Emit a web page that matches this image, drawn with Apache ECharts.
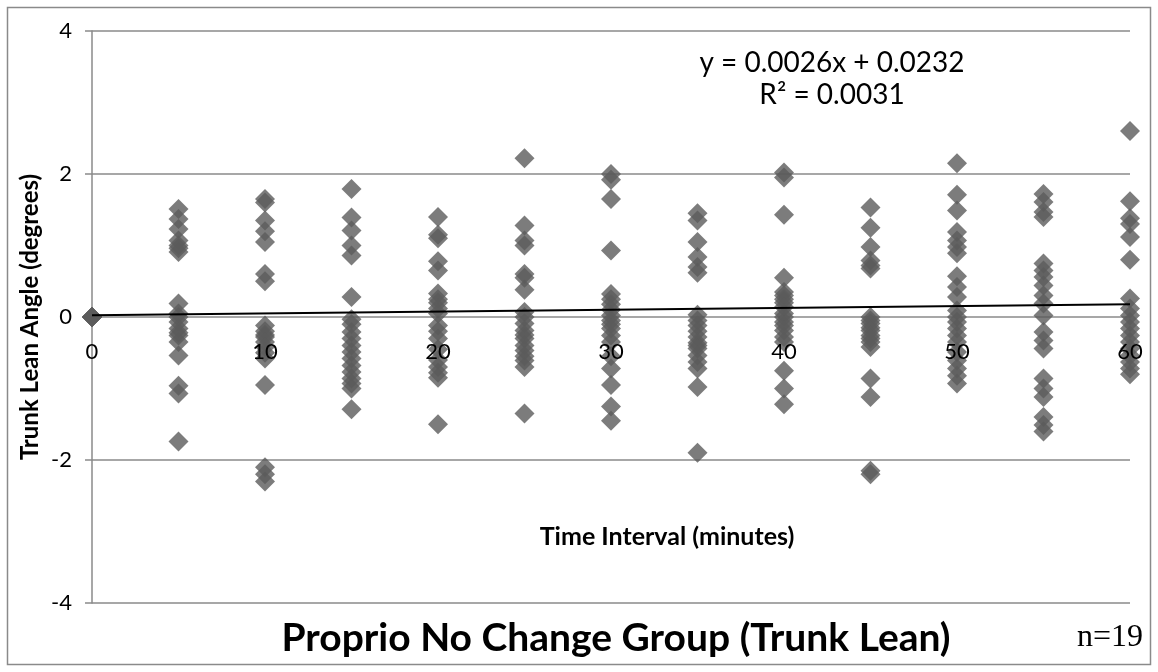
<!DOCTYPE html>
<html><head><meta charset="utf-8">
<script src="https://cdn.jsdelivr.net/npm/echarts@6/dist/echarts.min.js"></script>
<style>html,body{margin:0;padding:0;background:#fff}#c{width:1158px;height:672px}</style>
</head><body><div id="c"></div>
<script>
// Time intervals (minutes) and trunk lean angles (degrees) read at each interval
const t0  = [0,0,0,0,0];
const t5  = [1.51,1.37,1.23,1.07,1.0,0.96,0.91,0.19,0.05,0.0,-0.07,-0.16,-0.22,-0.26,-0.35,-0.54,-0.96,-1.07,-1.74];
const t10 = [1.65,1.6,1.35,1.2,1.05,0.6,0.5,-0.12,-0.2,-0.25,-0.28,-0.35,-0.42,-0.5,-0.58,-0.95,-2.1,-2.2,-2.3];
const t15 = [1.79,1.39,1.21,1.0,0.86,0.28,-0.03,-0.1,-0.21,-0.3,-0.4,-0.49,-0.58,-0.68,-0.77,-0.86,-0.93,-1.0,-1.29];
const t20 = [1.4,1.15,1.1,0.78,0.65,0.33,0.25,0.2,0.12,0.05,-0.12,-0.2,-0.3,-0.45,-0.6,-0.7,-0.78,-0.85,-1.5];
const t25 = [2.22,1.28,1.07,1.0,0.6,0.55,0.38,0.07,0.0,-0.09,-0.19,-0.25,-0.3,-0.4,-0.47,-0.55,-0.61,-0.7,-1.35];
const t30 = [2.0,1.92,1.65,0.93,0.32,0.25,0.18,0.1,0.02,-0.05,-0.1,-0.16,-0.26,-0.35,-0.55,-0.72,-0.95,-1.25,-1.45];
const t35 = [1.45,1.35,1.05,0.84,0.7,0.62,0.03,-0.05,-0.12,-0.2,-0.28,-0.36,-0.4,-0.44,-0.54,-0.63,-0.72,-0.98,-1.9];
const t40 = [2.02,1.95,1.43,0.55,0.35,0.3,0.25,0.2,0.14,0.05,0.0,-0.07,-0.12,-0.19,-0.28,-0.35,-0.75,-1.0,-1.22];
const t45 = [1.53,1.25,0.98,0.79,0.72,0.68,0.0,-0.05,-0.09,-0.15,-0.19,-0.26,-0.3,-0.35,-0.42,-0.86,-1.12,-2.15,-2.2];
const t50 = [2.15,1.71,1.49,1.19,1.07,0.98,0.89,0.57,0.42,0.28,0.09,0.0,-0.07,-0.16,-0.26,-0.35,-0.49,-0.61,-0.72,-0.82,-0.93];
const t55 = [1.72,1.61,1.47,1.4,0.75,0.65,0.56,0.44,0.3,0.19,0.02,-0.21,-0.33,-0.44,-0.86,-1.0,-1.12,-1.4,-1.51,-1.6];
const t60 = [2.6,1.62,1.38,1.3,1.12,0.8,0.26,0.12,0.02,-0.07,-0.16,-0.26,-0.35,-0.44,-0.54,-0.63,-0.72,-0.8];
const intervals = [0,5,10,15,20,25,30,35,40,45,50,55,60];
const groups = [t0,t5,t10,t15,t20,t25,t30,t35,t40,t45,t50,t55,t60];
// Linear trendline y = 0.0026x + 0.0232 endpoints
const trendX = [0, 60];
const trendY = [0.0232, 0.1792];
const xTicks = [0,10,20,30,40,50,60];
const yTicks = [-4,-2,0,2,4];

const points = [];
intervals.forEach((x, i) => groups[i].forEach(v => points.push([x, v])));
const trend = trendX.map((x, i) => [x, trendY[i]]);

const font = 'Lato, "Open Sans", sans-serif';
const gridTop = 31, gridBottom = 69, H = 672;
const zeroOffset = -(H - gridTop - gridBottom) / 2; // x axis crosses y = 0 (middle of -4..4)
const chart = echarts.init(document.getElementById('c'), null, {renderer: 'canvas'});
chart.setOption({
  animation: false,
  backgroundColor: '#fff',
  grid: {left: 92, right: 28, top: gridTop, bottom: gridBottom},
  xAxis: {
    type: 'value', min: xTicks[0], max: xTicks[xTicks.length-1], interval: 10,
    offset: zeroOffset, z: 6,
    axisLine: {show: false, onZero: false},
    axisTick: {show: false},
    splitLine: {show: false},
    axisLabel: {color: '#000', fontSize: 22, fontFamily: font, margin: 24}
  },
  yAxis: {
    type: 'value', min: yTicks[0], max: yTicks[yTicks.length-1], interval: 2,
    axisLine: {show: true, onZero: false, lineStyle: {color: '#8a8a8a', width: 1.5}},
    axisTick: {show: true, length: 7, lineStyle: {color: '#8a8a8a', width: 1.5}},
    splitLine: {show: true, lineStyle: {color: '#8a8a8a', width: 1.5}},
    axisLabel: {color: '#000', fontSize: 22, fontFamily: font, margin: 20}
  },
  series: [
    {type: 'scatter', data: points, symbol: 'diamond', symbolSize: 20,
     itemStyle: {color: '#5b5b5b'}, z: 2},
    {type: 'line', data: trend, symbol: 'none', lineStyle: {color: '#000', width: 2}, z: 3}
  ],
  graphic: [
    {type: 'rect', shape: {x: 7.5, y: 7.5, width: 1143, height: 657}, style: {fill: null, stroke: '#8a8a8a', lineWidth: 1.5}, silent: true},
    {type: 'text', x: 832, y: 63, style: {text: 'y = 0.0026x + 0.0232', font: '28px ' + font, fill: '#000', textAlign: 'center', textVerticalAlign: 'middle'}},
    {type: 'text', x: 832, y: 95, style: {text: 'R² = 0.0031', font: '28px ' + font, fill: '#000', textAlign: 'center', textVerticalAlign: 'middle'}},
    {type: 'text', x: 667, y: 537, style: {text: 'Time Interval (minutes)', font: 'bold 25px ' + font, fill: '#000', textAlign: 'center', textVerticalAlign: 'middle'}},
    {type: 'text', x: 30, y: 317, rotation: Math.PI/2, style: {text: 'Trunk Lean Angle (degrees)', font: 'bold 24px ' + font, fill: '#000', textAlign: 'center', textVerticalAlign: 'middle'}},
    {type: 'text', x: 616, y: 638, style: {text: 'Proprio No Change Group (Trunk Lean)', font: 'bold 39px ' + font, fill: '#000', textAlign: 'center', textVerticalAlign: 'middle'}},
    {type: 'text', x: 1110, y: 638, style: {text: 'n=19', font: '32px "Liberation Serif", serif', fill: '#000', textAlign: 'center', textVerticalAlign: 'middle'}}
  ]
});
</script></body></html>
